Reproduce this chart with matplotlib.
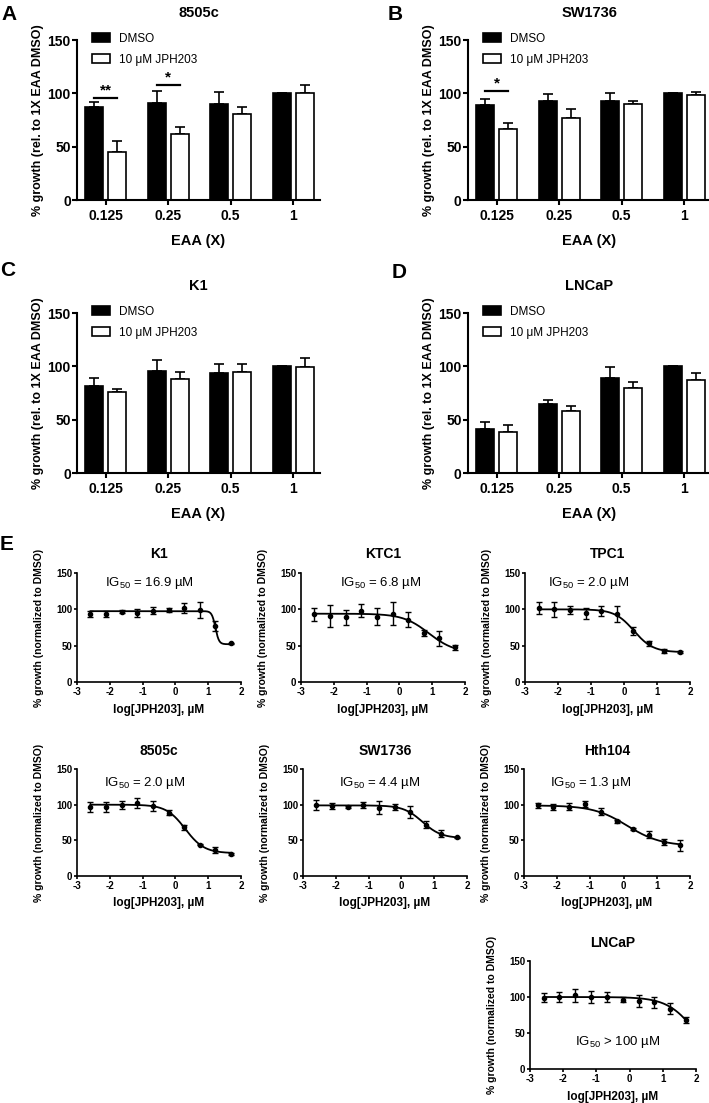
import numpy as np
import matplotlib
matplotlib.use("Agg")
import matplotlib.pyplot as plt

plt.rcParams['font.family'] = 'Liberation Sans'
plt.rcParams['axes.unicode_minus'] = False
plt.rcParams['mathtext.fontset'] = 'custom'
plt.rcParams['mathtext.rm'] = 'Liberation Sans'
plt.rcParams['mathtext.it'] = 'Liberation Sans:italic'
plt.rcParams['mathtext.bf'] = 'Liberation Sans:bold'

# ---- bar panels A-D : growth vs EAA dilution ----
eaa_labels = ['0.125', '0.25', '0.5', '1']

dmso_8505c = [87.5, 91, 90, 100]
dmso_8505c_err = [4.5, 11, 11, 0]
jph_8505c = [45, 62, 80.5, 100.5]
jph_8505c_err = [10, 6, 7, 7]

dmso_sw1736 = [89, 93, 93, 100]
dmso_sw1736_err = [6, 6, 7.5, 0]
jph_sw1736 = [67, 77, 90, 98.5]
jph_sw1736_err = [5, 8, 3, 2.5]

dmso_k1 = [82, 95.5, 94, 100]
dmso_k1_err = [7, 10.5, 8, 0]
jph_k1 = [76, 88, 95, 99]
jph_k1_err = [3, 7, 7.5, 9]

dmso_lncap = [41.5, 64.5, 89.5, 100]
dmso_lncap_err = [6.5, 3.5, 10, 0]
jph_lncap = [38.5, 58, 79.5, 87.5]
jph_lncap_err = [6.5, 5, 5.5, 6]

# significance marks: (group, stars, height)
sig_8505c = [(0, '**', 96), (1, '*', 108)]
sig_sw1736 = [(0, '*', 102.5)]

# ---- panel E : dose response ----
log_conc = [-2.59, -2.12, -1.64, -1.16, -0.69, -0.21, 0.27, 0.75, 1.22, 1.70]

k1_resp = [94, 94, 97, 95, 98, 99, 101.5, 99, 77, 53]
k1_err = [4, 4, 2, 5, 5, 3, 7, 11, 7, 1]
ktc1_resp = [93, 91, 89, 98, 90, 94, 86, 67, 60, 47.5]
ktc1_err = [9, 15, 10, 9, 12, 16, 10, 4, 10, 4]
tpc1_resp = [101.5, 100, 99, 94.5, 98, 93, 70, 53, 43, 41]
tpc1_err = [8, 10, 5, 8, 7, 11, 6, 3, 3, 1]
c8505_resp = [97, 97, 99.5, 102, 98, 89, 68, 44, 36.5, 31]
c8505_err = [7, 7, 6, 7, 7, 4, 3, 1, 4, 1]
sw1736_resp = [100, 98.5, 97, 100, 96, 97, 89.5, 72, 59, 54]
sw1736_err = [7, 4.5, 1, 4, 9, 4, 8, 5, 5, 1]
hth104_resp = [99, 96.5, 97, 100.5, 90, 76.5, 66, 58, 47.5, 43]
hth104_err = [4, 4, 5, 4, 5, 2, 1, 5, 4, 8]
lncap_resp = [99, 100, 102.5, 100, 100, 96.5, 94.5, 92.5, 84, 68]
lncap_err = [6, 7, 9, 9, 7, 3, 8, 8, 8, 4]

# fitted curve params: top, bottom, log midpoint, hill slope
k1_fit = [97.5, 52, 1.22, 8]
ktc1_fit = [94, 40, 0.9, 1.1]
tpc1_fit = [100, 41, 0.3, 1.5]
c8505_fit = [100, 32, 0.3, 1.5]
sw1736_fit = [99, 53, 0.64, 1.5]
hth104_fit = [99, 42, 0.11, 0.85]
lncap_fit = [100, 0, 2.02, 1.0]

W, H = 709, 1103
fig = plt.figure(figsize=(W / 100, H / 100), dpi=100)


def px_axes(l, t, r, b):
    return fig.add_axes([l / W, 1 - b / H, (r - l) / W, (b - t) / H])


def bar_panel(ax, title, dmso, dmso_err, jph, jph_err, sig):
    x = np.arange(len(eaa_labels))
    off = 0.185
    w = 0.29
    ax.bar(x - off, dmso, w, color='black', edgecolor='black', lw=1.2, label='DMSO', zorder=2)
    ax.bar(x + off, jph, w, color='white', edgecolor='black', lw=1.2, label='10 μM JPH203', zorder=2)
    ax.errorbar(x - off, dmso, yerr=[np.zeros(4), dmso_err], fmt='none', ecolor='black',
                elinewidth=1.2, capsize=3.5, capthick=1.2, zorder=1)
    ax.errorbar(x + off, jph, yerr=[np.zeros(4), jph_err], fmt='none', ecolor='black',
                elinewidth=1.2, capsize=3.5, capthick=1.2, zorder=1)
    for i, s, y in sig:
        ax.plot([i - off, i + off], [y, y], color='black', lw=1.6)
        ax.text(i, y + 0.5, s, ha='center', va='bottom', fontsize=11, fontweight='bold')
    ax.set_xlim(-0.46, 3.43)
    ax.set_ylim(0, 150)
    ax.set_xticks(x)
    ax.set_xticklabels(eaa_labels)
    ax.set_yticks([0, 50, 100, 150])
    for s in ['top', 'right']:
        ax.spines[s].set_visible(False)
    for s in ['left', 'bottom']:
        ax.spines[s].set_linewidth(1.5)
    ax.tick_params(axis='both', width=1.5, length=3.5, labelsize=10)
    ax.tick_params(axis='y', pad=1)
    ax.tick_params(axis='x', pad=3)
    for lab in ax.get_xticklabels() + ax.get_yticklabels():
        lab.set_fontweight('bold')
    ax.set_xlabel('EAA (X)', fontsize=10.5, fontweight='bold')
    ax.xaxis.set_label_coords(0.5, -0.21)
    ax.set_ylabel('% growth (rel. to 1X EAA DMSO)', fontsize=9, fontweight='bold')
    ax.yaxis.set_label_coords(-0.135, 0.5)
    ax.text(0.5, 1.17, title, transform=ax.transAxes, ha='center', va='center',
            fontsize=10.5, fontweight='bold')
    ax.legend(loc='upper left', bbox_to_anchor=(0.062, 1.045), frameon=False, fontsize=8.5,
              handlelength=1.5, handleheight=0.85, handletextpad=0.8, labelspacing=0.75,
              borderpad=0, borderaxespad=0)


def dose_panel(ax, title, resp, err, fit, ig_text, ig_xy):
    ax.errorbar(log_conc, resp, yerr=err, fmt='o', ms=3, color='black', ecolor='black',
                elinewidth=1, capsize=2.5, capthick=1, zorder=3)
    top, bottom, mid, hill = fit
    xs = np.linspace(log_conc[0], log_conc[-1], 300)
    ax.plot(xs, bottom + (top - bottom) / (1 + 10 ** ((xs - mid) * hill)), color='black', lw=1.3)
    ax.set_xlim(-3, 2)
    ax.set_ylim(0, 150)
    ax.set_xticks([-3, -2, -1, 0, 1, 2])
    ax.set_yticks([0, 50, 100, 150])
    for s in ['top', 'right']:
        ax.spines[s].set_visible(False)
    for s in ['left', 'bottom']:
        ax.spines[s].set_linewidth(1.2)
    ax.tick_params(axis='both', width=1.2, length=2.5, labelsize=7, pad=1)
    for lab in ax.get_xticklabels() + ax.get_yticklabels():
        lab.set_fontweight('bold')
    ax.set_xlabel('log[JPH203], µM', fontsize=8.5, fontweight='bold')
    ax.xaxis.set_label_coords(0.5, -0.2)
    ax.set_ylabel('% growth (normalized to DMSO)', fontsize=7.5, fontweight='bold')
    ax.yaxis.set_label_coords(-0.2, 0.5)
    ax.text(0.5, 1.17, title, transform=ax.transAxes, ha='center', va='center',
            fontsize=10, fontweight='bold')
    ax.text(ig_xy[0], ig_xy[1], ig_text, ha='center', va='center', fontsize=9.5)


# bar charts
axA = px_axes(77, 40, 320, 200)
bar_panel(axA, '8505c', dmso_8505c, dmso_8505c_err, jph_8505c, jph_8505c_err, sig_8505c)
axB = px_axes(468, 40, 711, 200)
bar_panel(axB, 'SW1736', dmso_sw1736, dmso_sw1736_err, jph_sw1736, jph_sw1736_err, sig_sw1736)
axC = px_axes(77, 313, 320, 473)
bar_panel(axC, 'K1', dmso_k1, dmso_k1_err, jph_k1, jph_k1_err, [])
axD = px_axes(468, 313, 711, 473)
bar_panel(axD, 'LNCaP', dmso_lncap, dmso_lncap_err, jph_lncap, jph_lncap_err, [])

# dose-response curves
ax = px_axes(77, 573, 241, 682)
dose_panel(ax, 'K1', k1_resp, k1_err, k1_fit, r'IG$_{50}$ = 16.9 µM', (-0.8, 136))
ax = px_axes(301, 573, 465, 682)
dose_panel(ax, 'KTC1', ktc1_resp, ktc1_err, ktc1_fit, r'IG$_{50}$ = 6.8 µM', (-0.56, 136))
ax = px_axes(525, 573, 690, 682)
dose_panel(ax, 'TPC1', tpc1_resp, tpc1_err, tpc1_fit, r'IG$_{50}$ = 2.0 µM', (-1.06, 136))
ax = px_axes(77, 769, 241, 876)
dose_panel(ax, '8505c', c8505_resp, c8505_err, c8505_fit, r'IG$_{50}$ = 2.0 µM', (-0.93, 130))
ax = px_axes(303, 769, 467, 876)
dose_panel(ax, 'SW1736', sw1736_resp, sw1736_err, sw1736_fit, r'IG$_{50}$ = 4.4 µM', (-0.65, 130))
ax = px_axes(524, 769, 690, 876)
dose_panel(ax, 'Hth104', hth104_resp, hth104_err, hth104_fit, r'IG$_{50}$ = 1.3 µM', (-1.0, 130))
ax = px_axes(530, 961, 696, 1069)
dose_panel(ax, 'LNCaP', lncap_resp, lncap_err, lncap_fit, r'IG$_{50}$ > 100 µM', (-0.35, 37.5))

# panel letters
for letter, px, py in [('A', 1, 15), ('B', 388, 15), ('C', 0, 270), ('D', 392, 273), ('E', 0, 545)]:
    fig.text(px / W, 1 - py / H, letter, ha='left', va='center', fontsize=15, fontweight='bold')

fig.savefig('out.png', dpi=100)
